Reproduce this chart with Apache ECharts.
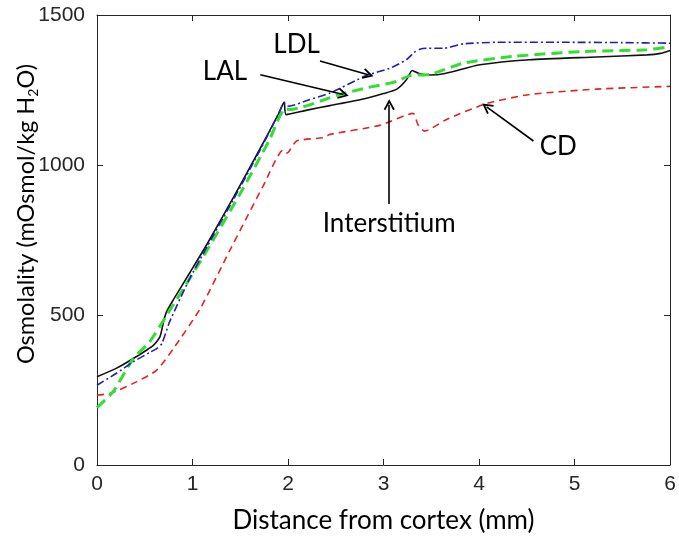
<!DOCTYPE html>
<html><head><meta charset="utf-8">
<script src="https://cdn.jsdelivr.net/npm/echarts@6/dist/echarts.min.js"></script>
<style>html,body{margin:0;padding:0;background:#fff}#c{width:679px;height:539px}</style>
</head><body><div id="c"></div>
<script>
const xTicks = [0, 1, 2, 3, 4, 5, 6];
const yTicks = [0, 500, 1000, 1500];

const ldlX = [0, 0.2, 0.38, 0.55, 0.625, 0.68, 0.76, 0.97, 1.15, 1.43, 1.7, 1.9, 1.96, 2.01, 2.2, 2.44, 2.82, 3.07, 3.24, 3.32, 3.38, 3.45, 3.63, 3.84, 4.19, 4.88, 5.5, 6.0];
const ldlY = [266, 305, 344, 375, 388, 405, 477, 621, 726, 886, 1045, 1170, 1207, 1196, 1215, 1240, 1298, 1323, 1351, 1375, 1386, 1389, 1389, 1404, 1409, 1409, 1408, 1406];

const intX = [0, 0.2, 0.38, 0.59, 0.66, 0.7, 0.73, 0.8, 0.97, 1.15, 1.43, 1.7, 1.9, 1.96, 1.98, 2.2, 2.44, 2.79, 3.0, 3.14, 3.24, 3.3, 3.38, 3.49, 3.63, 4.01, 4.53, 5.23, 5.76, 5.9, 6.0];
const intY = [294, 322, 355, 399, 428, 482, 512, 551, 640, 735, 893, 1050, 1170, 1210, 1168, 1183, 1198, 1220, 1238, 1253, 1284, 1315, 1304, 1300, 1304, 1334, 1351, 1360, 1367, 1372, 1382];

const lalX = [0, 0.17, 0.38, 0.55, 0.73, 0.97, 1.16, 1.5, 1.8, 1.97, 2.02, 2.54, 2.82, 3.07, 3.14, 3.28, 3.49, 3.84, 4.36, 5.06, 5.76, 6.0];
const lalY = [191, 245, 355, 410, 499, 621, 720, 905, 1080, 1188, 1185, 1235, 1257, 1273, 1279, 1298, 1302, 1340, 1362, 1378, 1384, 1395];

const cdX = [0, 0.14, 0.38, 0.625, 0.8, 1.08, 1.39, 1.74, 1.95, 1.99, 2.09, 2.37, 2.44, 2.96, 3.31, 3.36, 3.43, 3.66, 4.08, 4.53, 5.23, 6.0];
const cdY = [233, 239, 272, 316, 388, 521, 715, 930, 1050, 1040, 1080, 1091, 1102, 1132, 1172, 1135, 1113, 1152, 1205, 1235, 1253, 1262];

// annotations in data coordinates
const annLabels = ['LDL', 'LAL', 'Interstitium', 'CD'];
const annText = [[2.09, 1401], [1.34, 1311], [3.06, 803], [4.83, 1062]];
const annFrom = [[2.335, 1347], [1.71, 1301], [3.06, 870], [4.57, 1080]];
const annTo = [[2.84, 1301], [2.58, 1235], [3.06, 1201], [4.08, 1194]];

const zip = (xs, ys) => xs.map((x, i) => [x, ys[i]]);
const axisCol = '#262626';
const annFont = 'Lato';
const chevron = 'path://M5,0 L10,9 L8.6,9.8 L5,3.4 L1.4,9.8 L0,9 Z';

const chart = echarts.init(document.getElementById('c'), null, {renderer: 'canvas'});
const baseX = {
  type: 'value', min: xTicks[0], max: xTicks[xTicks.length - 1], interval: 1,
  axisLine: {show: true, onZero: false, lineStyle: {color: axisCol, width: 1}},
  axisTick: {show: true, inside: true, length: 6, lineStyle: {color: axisCol}},
  splitLine: {show: false}
};
const baseY = {
  type: 'value', min: yTicks[0], max: yTicks[yTicks.length - 1], interval: 500,
  axisLine: {show: true, onZero: false, lineStyle: {color: axisCol, width: 1}},
  axisTick: {show: true, inside: true, length: 6, lineStyle: {color: axisCol}},
  splitLine: {show: false}
};
const lineCommon = {type: 'line', showSymbol: false, smooth: 0.2};
chart.setOption({
  animation: false,
  backgroundColor: '#fff',
  grid: {left: 97, right: 9, top: 15, bottom: 72, containLabel: false},
  xAxis: [
    Object.assign({}, baseX, {
      position: 'bottom',
      axisLabel: {show: true, color: axisCol, fontFamily: 'Liberation Sans', fontSize: 21, margin: 9,
                  formatter: v => String(v)},
      name: 'Distance from cortex (mm)', nameLocation: 'middle', nameGap: 43,
      nameTextStyle: {color: '#000', fontFamily: annFont, fontSize: 26}
    }),
    Object.assign({}, baseX, {position: 'top', axisLabel: {show: false}})
  ],
  yAxis: [
    Object.assign({}, baseY, {
      position: 'left',
      axisLabel: {show: true, color: axisCol, fontFamily: 'Liberation Sans', fontSize: 21, margin: 12,
                  formatter: v => String(v)}
    }),
    Object.assign({}, baseY, {position: 'right', axisLabel: {show: false}})
  ],
  graphic: [{
    type: 'text', x: 26, y: 214, rotation: Math.PI / 2, silent: true,
    style: {
      text: '{a|Osmolality (mOsmol/kg H}{s|2}{a|O)}',
      align: 'center', verticalAlign: 'middle',
      rich: {
        a: {fill: '#000', fontFamily: annFont, fontSize: 23.5},
        s: {fill: '#000', fontFamily: annFont, fontSize: 14, padding: [14, 0, 0, 0]}
      }
    }
  }],
  series: [
    Object.assign({name: 'CD', data: zip(cdX, cdY),
     lineStyle: {color: '#e02424', width: 1.6, type: [7, 5]}}, lineCommon),
    Object.assign({name: 'Interstitium', data: zip(intX, intY),
     lineStyle: {color: '#111', width: 1.6, type: 'solid'}}, lineCommon),
    Object.assign({name: 'LAL', data: zip(lalX, lalY),
     lineStyle: {color: '#33dd33', width: 3, type: [11, 6]}}, lineCommon),
    Object.assign({name: 'LDL', data: zip(ldlX, ldlY),
     lineStyle: {color: '#1f1fb4', width: 1.6, type: [8, 3, 2, 3]}}, lineCommon),
    {name: 'ann', type: 'line', data: [], silent: true,
     markLine: {
       silent: true, symbol: ['none', chevron], symbolSize: 11,
       label: {show: false},
       lineStyle: {color: '#000', width: 1.6, type: 'solid'},
       data: annFrom.map((f, i) => [{coord: f, symbol: 'none'}, {coord: annTo[i], symbol: chevron, symbolSize: 11}])
     },
     markPoint: {
       silent: true, symbol: 'circle', symbolSize: 0,
       data: annLabels.map((l, i) => ({coord: annText[i], value: l,
         label: {show: true, formatter: l, position: 'inside', color: '#000', fontFamily: annFont, fontSize: 26}}))
     }}
  ]
});
</script></body></html>
